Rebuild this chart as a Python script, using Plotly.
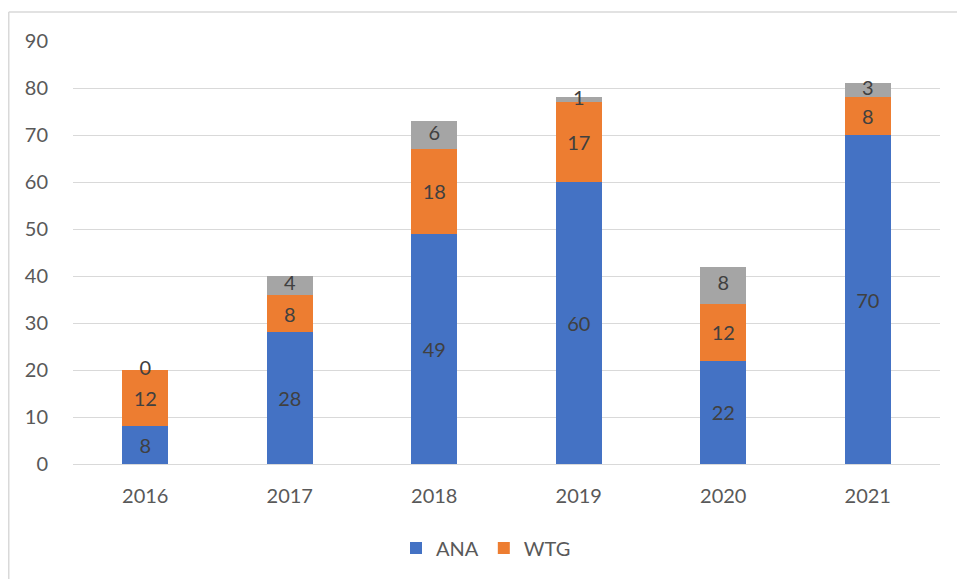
import plotly.graph_objects as go

years = ["2016", "2017", "2018", "2019", "2020", "2021"]
ana = [8, 28, 49, 60, 22, 70]
wtg = [12, 8, 18, 17, 12, 8]
other = [0, 4, 6, 1, 8, 3]

BLUE = "#4472C4"
ORANGE = "#ED7D31"
GRAY = "#A5A5A5"
FONT = "Lato"
LABEL_COLOR = "#404040"

fig = go.Figure()
fig.add_bar(x=years, y=ana, name="ANA", marker_color=BLUE, marker_line_width=0,
            text=[str(v) for v in ana], textposition="inside", insidetextanchor="middle",
            constraintext="none", textfont=dict(size=20, color=LABEL_COLOR, family=FONT))
fig.add_bar(x=years, y=wtg, name="WTG", marker_color=ORANGE, marker_line_width=0,
            text=[str(v) for v in wtg], textposition="inside", insidetextanchor="middle",
            constraintext="none", textfont=dict(size=20, color=LABEL_COLOR, family=FONT))
fig.add_bar(x=years, y=other, name="", marker_color=GRAY, marker_line_width=0,
            showlegend=False, hoverinfo="skip")

mid_other = [a + w + o / 2 for a, w, o in zip(ana, wtg, other)]
fig.add_scatter(x=years, y=mid_other, mode="text", text=[str(v) for v in other],
                textposition="middle center", showlegend=False, hoverinfo="skip",
                textfont=dict(size=20, color=LABEL_COLOR, family=FONT))

W, H = 957, 579
L, T = 73, 41
R = W - 940
B = H - 464
pw, ph = W - L - R, H - T - B
bottom_px = T + ph

def px_x(p):
    return (p - L) / pw

def px_y(p):
    return (bottom_px - p) / ph

border = dict(color="#D9D9D9", width=1.5)
fig.update_layout(
    width=W, height=H, barmode="stack", bargap=0.68,
    margin=dict(l=L, r=R, t=T, b=B),
    paper_bgcolor="white", plot_bgcolor="white",
    font=dict(family=FONT, color="#595959", size=19),
    legend=dict(orientation="h", x=px_x(486), xanchor="center",
                y=px_y(548), yanchor="middle",
                font=dict(size=20, color="#595959", family=FONT),
                itemwidth=30, traceorder="normal"),
    shapes=[
        dict(type="line", xref="paper", yref="paper",
             x0=px_x(8.75), x1=px_x(8.75), y0=px_y(12), y1=px_y(H + 20),
             line=border, layer="below"),
        dict(type="line", xref="paper", yref="paper",
             x0=px_x(8.75), x1=px_x(W + 20), y0=px_y(12), y1=px_y(12),
             line=border, layer="below"),
    ],
)
fig.update_yaxes(range=[0, 90], dtick=10, showgrid=True, gridcolor="#D9D9D9", gridwidth=1,
                 zeroline=True, zerolinecolor="#D9D9D9", zerolinewidth=1,
                 showline=False, ticks="", ticklen=0, ticklabelstandoff=24,
                 tickfont=dict(size=20, color="#595959", family=FONT))
fig.update_xaxes(showline=False, ticks="", ticklabelstandoff=18,
                 tickfont=dict(size=20, color="#595959", family=FONT))

fig.write_html(
    "out.html",
    config={"displayModeBar": False},
    post_script="document.body.style.margin='0';document.body.style.overflow='hidden';",
)
